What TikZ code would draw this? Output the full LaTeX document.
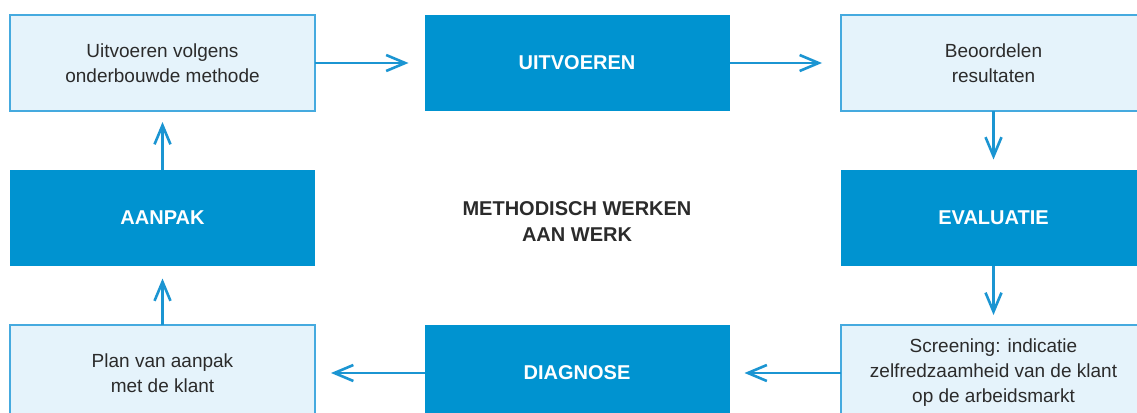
\documentclass[tikz,border=0pt]{standalone}
\usepackage{fontspec}
\setmainfont{Liberation Sans}
\usetikzlibrary{arrows.meta}
\definecolor{donker}{HTML}{0093D0}
\definecolor{licht}{HTML}{E5F3FB}
\definecolor{rand}{HTML}{45AADF}
\definecolor{pijl}{HTML}{1B95D2}
\definecolor{tekst}{HTML}{2B2B2B}

\begin{document}
\begin{tikzpicture}[x=1pt, y=-1pt,
        X/.style={minimum width=305pt, minimum height=96pt, inner sep=0pt, outer sep=0pt, align=center},
        L/.style={X, draw=rand, line width=1.6pt, fill=licht, text=tekst, font=\fontsize{19}{25}\selectfont},
        D/.style={X, fill=donker, text=white, font=\fontsize{20}{26}\selectfont\bfseries},
        A/.style={draw=pijl, line width=2.6pt, -{Straight Barb[length=19pt, width=16pt]}}
    ]

    \def\xa{162.5}
    \def\xb{577}
    \def\xc{993.5}
    \def\ya{63}
    \def\yb{217.5}
    \def\yc{373}

    \useasboundingbox (0,0) rectangle (1137,412);
    \clip (0,0) rectangle (1137,412);

    % bovenste rij
    \node[L] (volgens) at (\xa,\ya) {Uitvoeren volgens\\onderbouwde methode};
    \node[D] (uitvoeren) at (\xb,\ya) {UITVOEREN};
    \node[L] (beoordelen) at (\xc,\ya) {Beoordelen\\resultaten};

    % middelste rij
    \node[D] (aanpak) at (\xa,\yb) {AANPAK};
    \node[font=\fontsize{20}{26}\selectfont\bfseries, text=tekst, align=center] (titel) at (\xb,\yb+4) {METHODISCH WERKEN\\AAN WERK};
    \node[D] (evaluatie) at (\xc,\yb) {EVALUATIE};

    % onderste rij
    \node[L] (plan) at (\xa,\yc) {Plan van aanpak\\met de klant};
    \node[D] (diagnose) at (\xb,\yc) {DIAGNOSE};
    \node[L] (screening) at (\xc,\yc) {Screening: indicatie\\zelfredzaamheid van de klant\\op de arbeidsmarkt};

    \draw[A, shorten >=16pt] (volgens) -- (uitvoeren);
    \draw[A, shorten >=19pt] (uitvoeren) -- (beoordelen);
    \draw[A, shorten >=10pt] (beoordelen) -- (evaluatie);
    \draw[A, shorten >=10pt] (evaluatie) -- (screening);
    \draw[A, shorten >=15pt] (screening) -- (diagnose);
    \draw[A, shorten >=16pt] (diagnose) -- (plan);
    \draw[A, shorten >=13pt] (plan) -- (aanpak);
    \draw[A, shorten >=11pt] (aanpak) -- (volgens);
\end{tikzpicture}
\end{document}
